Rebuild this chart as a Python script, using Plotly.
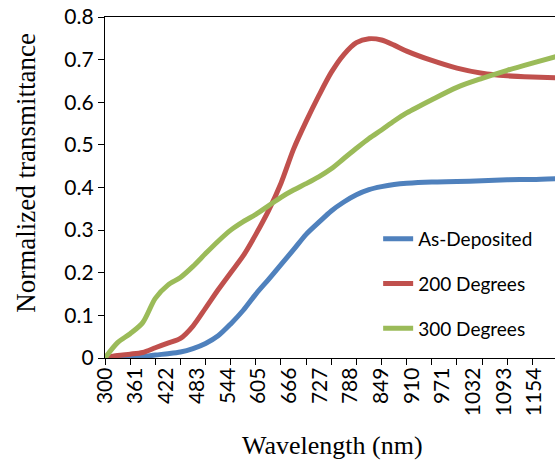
import plotly.graph_objects as go

wavelength = [300, 325, 350, 375, 400, 425, 450, 475, 500, 525, 550, 575, 600, 625, 650, 675,
              700, 725, 750, 775, 800, 825, 850, 875, 900, 950, 1000, 1050, 1100, 1150, 1200]

as_deposited = [0.000, 0.000, 0.001, 0.003, 0.007, 0.010, 0.014, 0.022, 0.034, 0.052, 0.080,
                0.112, 0.150, 0.184, 0.219, 0.254, 0.290, 0.318, 0.345, 0.366, 0.383, 0.395,
                0.402, 0.407, 0.410, 0.413, 0.414, 0.416, 0.418, 0.419, 0.421]

deg200 = [0.000, 0.006, 0.009, 0.013, 0.024, 0.035, 0.046, 0.075, 0.117, 0.160, 0.200,
          0.240, 0.290, 0.345, 0.410, 0.490, 0.555, 0.615, 0.670, 0.712, 0.740, 0.749,
          0.746, 0.734, 0.720, 0.698, 0.680, 0.668, 0.662, 0.659, 0.657]

deg300 = [0.000, 0.036, 0.057, 0.083, 0.140, 0.171, 0.189, 0.215, 0.245, 0.274, 0.300,
          0.320, 0.337, 0.357, 0.377, 0.394, 0.409, 0.425, 0.444, 0.468, 0.492, 0.515,
          0.535, 0.556, 0.575, 0.606, 0.635, 0.656, 0.675, 0.692, 0.708]

series_names = ["As-Deposited", "200 Degrees", "300 Degrees"]
series_colors = ["#4F81BD", "#C0504D", "#9BBB59"]

x_tick_values = [300, 361, 422, 483, 544, 605, 666, 727, 788, 849, 910, 971, 1032, 1093, 1154]
y_tick_values = [0, 0.1, 0.2, 0.3, 0.4, 0.5, 0.6, 0.7, 0.8]

fig = go.Figure()
for i, (name, vals, col) in enumerate(zip(series_names, [as_deposited, deg200, deg300], series_colors)):
    fig.add_trace(go.Scatter(
        x=wavelength, y=vals, name=name, mode="lines",
        line=dict(color=col, width=5, shape="spline", smoothing=0.8),
        legendgroup=f"g{i}",
    ))

tick_font = dict(family="Lato", size=21, color="black")

fig.update_layout(
    width=555, height=460,
    margin=dict(l=105, r=0, t=17, b=102),
    paper_bgcolor="white", plot_bgcolor="white",
    showlegend=True,
    legend=dict(x=0.607, y=0.405, xanchor="left", yanchor="top",
                font=dict(family="Lato", size=19, color="black"),
                tracegroupgap=17, bgcolor="rgba(0,0,0,0)"),
    xaxis=dict(
        range=[300, 1195], tickmode="array", tickvals=x_tick_values,
        ticktext=[str(v) for v in x_tick_values], tickangle=-90,
        ticks="", showgrid=False, zeroline=False, automargin=False,
        showline=True, linecolor="black", linewidth=1.3, mirror=True,
        tickfont=tick_font,
        minor=dict(ticks="outside", tick0=300, dtick=50, ticklen=6,
                   tickcolor="black", tickwidth=1.3, showgrid=False),
    ),
    yaxis=dict(
        range=[0, 0.8], tickmode="array", tickvals=y_tick_values,
        ticktext=["0", "0.1", "0.2", "0.3", "0.4", "0.5", "0.6", "0.7", "0.8"],
        ticks="outside", ticklen=6, tickcolor="black", tickwidth=1.3,
        showgrid=False, zeroline=False, automargin=False,
        showline=True, linecolor="black", linewidth=1.3,
        tickfont=tick_font,
    ),
    annotations=[
        dict(text="Normalized transmittance", xref="paper", yref="paper",
             x=-0.176, y=0.543, xanchor="center", yanchor="middle", textangle=-90,
             showarrow=False, font=dict(family="Liberation Serif", size=27, color="black")),
        dict(text="Wavelength (nm)", xref="paper", yref="paper",
             x=0.505, y=-0.258, xanchor="center", yanchor="middle",
             showarrow=False, font=dict(family="Liberation Serif", size=26, color="black")),
    ],
)

fig.write_html("out.html", config={"displayModeBar": False},
               post_script="document.body.style.margin='0px';")
